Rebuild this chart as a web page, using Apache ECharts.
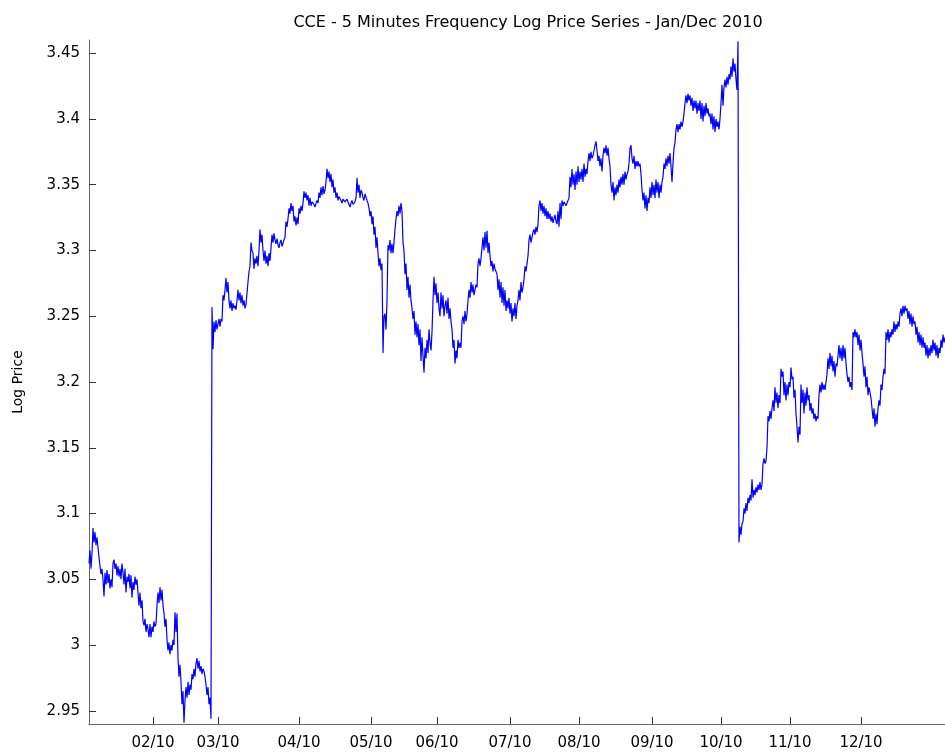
<!DOCTYPE html>
<html>
<head>
<meta charset="utf-8">
<title>CCE Log Price 2010</title>
<script src="https://cdn.jsdelivr.net/npm/echarts@6/dist/echarts.min.js"></script>
<style>
    html, body { margin: 0; padding: 0; background: #fff; }
    #chart { width: 945px; height: 755px; }
</style>
</head>
<body>
<div id="chart"></div>
<script>
// log price samples, one array per month (Jan..Dec 2010)
const jan = [
    3.062, 3.072, 3.058, 3.070, 3.089, 3.078, 3.086, 3.076, 3.082, 3.074,
    3.067, 3.060, 3.054, 3.058, 3.050, 3.037, 3.055, 3.046, 3.057, 3.047,
    3.054, 3.043, 3.050, 3.044, 3.062, 3.065, 3.058, 3.062, 3.053, 3.060,
    3.052, 3.058, 3.050, 3.062, 3.055, 3.046, 3.058, 3.040, 3.052, 3.048,
    3.054, 3.043, 3.053, 3.036, 3.048, 3.042, 3.052, 3.046, 3.050, 3.040,
    3.030, 3.040, 3.028, 3.034, 3.018, 3.015, 3.020, 3.010, 3.016, 3.012,
    3.006, 3.016, 3.006, 3.014
];
const feb = [
    3.010, 3.018, 3.014, 3.016, 3.030, 3.040, 3.032, 3.044, 3.034, 3.042,
    3.030, 3.024, 3.014, 3.020, 3.004, 2.996, 3.002, 2.993, 3.000, 2.996,
    3.004, 3.000, 3.025, 3.010, 3.024, 2.990, 2.976, 2.985, 2.972, 2.955,
    2.965, 2.941, 2.958, 2.968, 2.960, 2.972, 2.962, 2.970, 2.966, 2.978,
    2.974, 2.982, 2.976, 2.986, 2.990, 2.982, 2.988, 2.980, 2.984, 2.978,
    2.982, 2.980, 2.976, 2.970, 2.962, 2.968, 2.955, 2.960, 2.944, 3.257,
    3.225, 3.246, 3.238, 3.247, 3.240
];
const mar = [
    3.244, 3.248, 3.242, 3.248, 3.246, 3.266, 3.262, 3.270, 3.279, 3.268,
    3.276, 3.262, 3.256, 3.262, 3.254, 3.260, 3.256, 3.258, 3.255, 3.262,
    3.270, 3.262, 3.268, 3.260, 3.266, 3.258, 3.262, 3.256, 3.259, 3.258,
    3.276, 3.284, 3.288, 3.306, 3.300, 3.298, 3.286, 3.294, 3.290, 3.296,
    3.288, 3.300, 3.316, 3.306, 3.312, 3.300, 3.292, 3.300, 3.290, 3.296,
    3.288, 3.298, 3.292, 3.302, 3.312, 3.306, 3.313, 3.308, 3.305, 3.309,
    3.304, 3.302, 3.306, 3.308, 3.303, 3.304, 3.308, 3.310, 3.322, 3.318,
    3.324, 3.332, 3.328, 3.336, 3.330, 3.334, 3.322, 3.326, 3.319, 3.325,
    3.320
];
const apr = [
    3.332, 3.328, 3.334, 3.330, 3.336, 3.345, 3.340, 3.344, 3.338, 3.342,
    3.334, 3.340, 3.334, 3.337, 3.338, 3.335, 3.333, 3.336, 3.338, 3.336,
    3.344, 3.340, 3.348, 3.342, 3.349, 3.343, 3.346, 3.352, 3.362, 3.355,
    3.360, 3.352, 3.358, 3.348, 3.354, 3.344, 3.348, 3.340, 3.344, 3.338,
    3.341, 3.342, 3.338, 3.336, 3.339, 3.340, 3.337, 3.336, 3.339, 3.340,
    3.335, 3.333, 3.336, 3.338, 3.335, 3.334, 3.337, 3.340, 3.355, 3.344,
    3.350, 3.340, 3.346, 3.344, 3.340, 3.338, 3.343, 3.342, 3.338, 3.336,
    3.332, 3.326
];
const may = [
    3.330, 3.320, 3.326, 3.312, 3.318, 3.302, 3.310, 3.298, 3.288, 3.294,
    3.285, 3.290, 3.222, 3.250, 3.252, 3.240, 3.262, 3.304, 3.300, 3.308,
    3.298, 3.305, 3.298, 3.306, 3.316, 3.324, 3.330, 3.326, 3.334, 3.328,
    3.336, 3.330, 3.306, 3.300, 3.282, 3.290, 3.270, 3.280, 3.264, 3.274,
    3.262, 3.256, 3.248, 3.254, 3.236, 3.246, 3.234, 3.244, 3.228, 3.240,
    3.216, 3.234, 3.220, 3.207, 3.226, 3.218, 3.232, 3.222, 3.240, 3.230,
    3.224, 3.238, 3.262, 3.280, 3.266, 3.275
];
const jun = [
    3.260, 3.268, 3.256, 3.250, 3.268, 3.256, 3.266, 3.250, 3.258, 3.262,
    3.252, 3.264, 3.248, 3.256, 3.246, 3.240, 3.226, 3.232, 3.214, 3.224,
    3.218, 3.232, 3.226, 3.230, 3.226, 3.246, 3.250, 3.244, 3.254, 3.246,
    3.252, 3.262, 3.270, 3.264, 3.276, 3.268, 3.274, 3.266, 3.270, 3.274,
    3.272, 3.290, 3.294, 3.288, 3.294, 3.302, 3.310, 3.300, 3.314, 3.302,
    3.315, 3.298, 3.306, 3.296, 3.288, 3.292, 3.284, 3.290, 3.286, 3.284,
    3.282, 3.270, 3.278, 3.264, 3.276, 3.260, 3.272, 3.258, 3.270, 3.254,
    3.262, 3.256, 3.264
];
const jul = [
    3.252, 3.260, 3.246, 3.256, 3.250, 3.260, 3.248, 3.258, 3.262, 3.270,
    3.262, 3.276, 3.268, 3.272, 3.278, 3.288, 3.284, 3.290, 3.296, 3.308,
    3.312, 3.306, 3.310, 3.314, 3.316, 3.312, 3.318, 3.314, 3.320, 3.334,
    3.338, 3.330, 3.336, 3.328, 3.334, 3.326, 3.332, 3.324, 3.330, 3.324,
    3.328, 3.322, 3.326, 3.321, 3.324, 3.327, 3.322, 3.320, 3.330, 3.318,
    3.336, 3.324, 3.338, 3.334, 3.337, 3.338, 3.334, 3.335, 3.338, 3.340,
    3.356, 3.348, 3.362, 3.350, 3.358, 3.346, 3.360, 3.350, 3.364
];
const aug = [
    3.352, 3.360, 3.354, 3.362, 3.352, 3.366, 3.356, 3.362, 3.358, 3.368,
    3.374, 3.368, 3.375, 3.370, 3.372, 3.376, 3.380, 3.383, 3.376, 3.368,
    3.372, 3.364, 3.370, 3.360, 3.372, 3.378, 3.374, 3.380, 3.372, 3.378,
    3.370, 3.364, 3.350, 3.344, 3.352, 3.338, 3.348, 3.342, 3.350, 3.344,
    3.354, 3.348, 3.356, 3.350, 3.358, 3.350, 3.360, 3.354, 3.358, 3.360,
    3.366, 3.378, 3.380, 3.370, 3.366, 3.372, 3.362, 3.368, 3.364, 3.368,
    3.364, 3.366, 3.358, 3.346, 3.338, 3.344, 3.332, 3.342, 3.330, 3.340,
    3.336, 3.348, 3.340
];
const sep = [
    3.352, 3.342, 3.350, 3.340, 3.354, 3.344, 3.352, 3.340, 3.350, 3.344,
    3.352, 3.356, 3.366, 3.362, 3.370, 3.364, 3.372, 3.366, 3.374, 3.364,
    3.352, 3.366, 3.378, 3.382, 3.392, 3.396, 3.390, 3.396, 3.392, 3.398,
    3.394, 3.398, 3.404, 3.412, 3.418, 3.412, 3.419, 3.414, 3.418, 3.410,
    3.416, 3.406, 3.414, 3.408, 3.414, 3.404, 3.412, 3.406, 3.414, 3.400,
    3.412, 3.398, 3.410, 3.402, 3.412, 3.404, 3.408, 3.402, 3.404, 3.396,
    3.404, 3.392, 3.402, 3.390, 3.400, 3.394, 3.398, 3.392, 3.400
];
const oct = [
    3.412, 3.426, 3.410, 3.424, 3.430, 3.424, 3.432, 3.426, 3.434, 3.430,
    3.440, 3.432, 3.446, 3.436, 3.442, 3.430, 3.422, 3.459, 3.078, 3.090,
    3.084, 3.092, 3.094, 3.104, 3.100, 3.108, 3.102, 3.112, 3.108, 3.114,
    3.110, 3.126, 3.112, 3.118, 3.114, 3.120, 3.116, 3.122, 3.118, 3.124,
    3.118, 3.122, 3.138, 3.142, 3.138, 3.140, 3.150, 3.174, 3.170, 3.178,
    3.172, 3.180, 3.186, 3.178, 3.196, 3.184, 3.192, 3.180, 3.190, 3.184,
    3.210, 3.204, 3.208, 3.190, 3.200, 3.186, 3.198, 3.190, 3.200
];
const nov = [
    3.196, 3.211, 3.202, 3.204, 3.188, 3.194, 3.176, 3.166, 3.154, 3.166,
    3.160, 3.198, 3.184, 3.194, 3.176, 3.192, 3.182, 3.196, 3.186, 3.190,
    3.178, 3.184, 3.176, 3.180, 3.172, 3.176, 3.170, 3.174, 3.172, 3.190,
    3.198, 3.192, 3.200, 3.194, 3.198, 3.194, 3.200, 3.206, 3.218, 3.210,
    3.222, 3.212, 3.220, 3.208, 3.216, 3.204, 3.214, 3.212, 3.220, 3.228,
    3.218, 3.226, 3.216, 3.228, 3.218, 3.226, 3.214, 3.206, 3.200, 3.204,
    3.196, 3.200, 3.194, 3.238, 3.234, 3.240, 3.234, 3.238, 3.228, 3.236,
    3.224
];
const dec = [
    3.232, 3.222, 3.214, 3.204, 3.212, 3.196, 3.204, 3.190, 3.196, 3.192,
    3.188, 3.180, 3.172, 3.180, 3.166, 3.176, 3.168, 3.180, 3.186, 3.182,
    3.198, 3.194, 3.204, 3.210, 3.206, 3.238, 3.232, 3.240, 3.230, 3.238,
    3.234, 3.240, 3.236, 3.246, 3.238, 3.244, 3.240, 3.246, 3.242, 3.252,
    3.256, 3.250, 3.258, 3.252, 3.258, 3.254, 3.256, 3.248, 3.254, 3.244,
    3.252, 3.242, 3.250, 3.244, 3.246, 3.236, 3.242, 3.230, 3.238, 3.228,
    3.236, 3.226, 3.234, 3.226, 3.230, 3.220, 3.228, 3.218, 3.226, 3.220,
    3.228, 3.222, 3.232, 3.224, 3.230, 3.220, 3.228, 3.218, 3.226, 3.222,
    3.232, 3.226, 3.236, 3.230, 3.234
];

const months = [jan, feb, mar, apr, may, jun, jul, aug, sep, oct, nov, dec];
const monthLabels = ['02/10', '03/10', '04/10', '05/10', '06/10', '07/10',
    '08/10', '09/10', '10/10', '11/10', '12/10'];
const yTicks = [2.95, 3, 3.05, 3.1, 3.15, 3.2, 3.25, 3.3, 3.35, 3.4, 3.45];

const FONT = 'DejaVu Sans';

function buildSeries() {
    const points = [];
    const monthStarts = [];
    months.forEach((m, i) => {
        if (i > 0) monthStarts.push(points.length);
        m.forEach(v => points.push([points.length, v]));
    });
    return { points, monthStarts };
}

function initChart() {
    const { points, monthStarts } = buildSeries();
    const option = {
        animation: false,
        backgroundColor: '#fff',
        title: {
            text: 'CCE - 5 Minutes Frequency Log Price Series - Jan/Dec 2010',
            left: 523,
            top: 10,
            textAlign: 'center',
            textStyle: { fontFamily: FONT, fontSize: 16, fontWeight: 'normal', color: '#000' }
        },
        grid: { left: 89, right: 0, top: 40, bottom: 31, containLabel: false },
        xAxis: {
            type: 'value',
            min: 0,
            max: points.length - 1,
            splitLine: { show: false },
            axisLine: { lineStyle: { color: '#666', width: 1 } },
            axisTick: {
                inside: true,
                length: 7,
                customValues: monthStarts,
                lineStyle: { color: '#333' }
            },
            axisLabel: {
                customValues: monthStarts,
                formatter: (val) => monthLabels[monthStarts.indexOf(val)],
                margin: 12,
                fontFamily: FONT,
                fontSize: 15,
                color: '#000'
            }
        },
        yAxis: {
            type: 'value',
            min: 2.94,
            max: 3.46,
            name: 'Log Price',
            nameLocation: 'middle',
            nameGap: 64,
            nameTextStyle: { fontFamily: FONT, fontSize: 14, color: '#000' },
            splitLine: { show: false },
            axisLine: { show: true, lineStyle: { color: '#666', width: 1 } },
            axisTick: {
                show: true,
                inside: true,
                length: 7,
                customValues: yTicks,
                lineStyle: { color: '#333' }
            },
            axisLabel: {
                customValues: yTicks,
                margin: 9,
                fontFamily: FONT,
                fontSize: 15,
                color: '#000'
            }
        },
        series: [{
            type: 'line',
            data: points,
            showSymbol: false,
            symbol: 'none',
            sampling: null,
            lineStyle: { color: '#0000ff', width: 1.2 },
            clip: true
        }]
    };
    const myChart = echarts.init(document.querySelector('#chart'));
    myChart.setOption(option);
}

initChart();
</script>
</body>
</html>
